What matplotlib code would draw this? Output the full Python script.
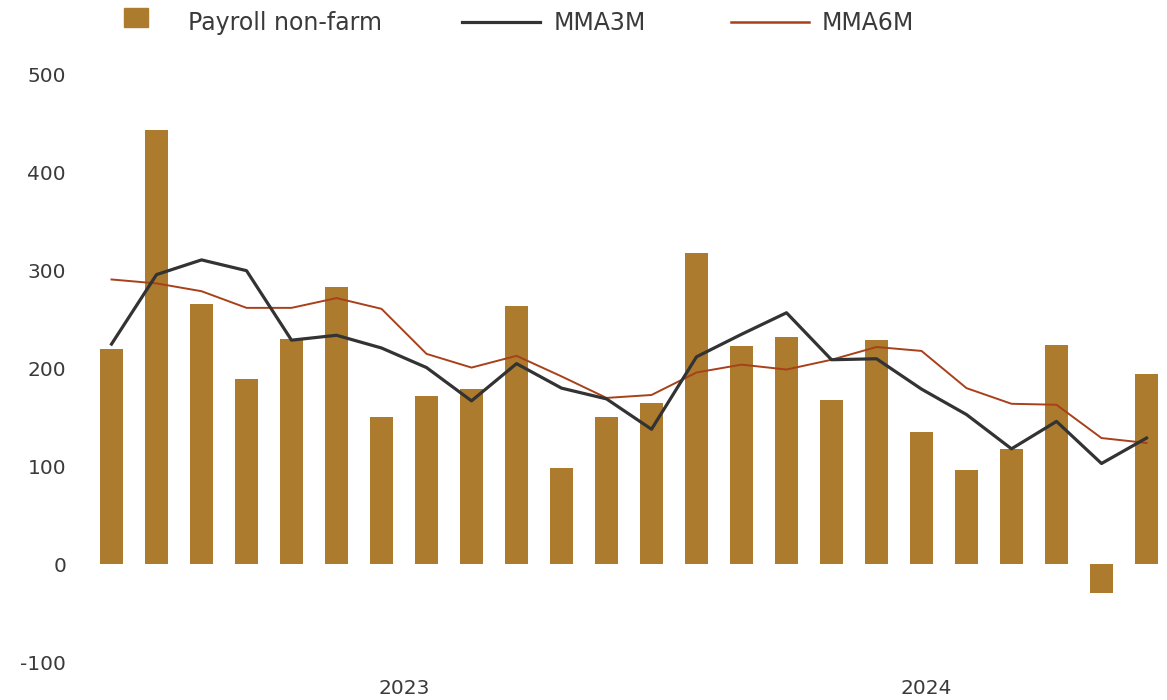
import matplotlib
matplotlib.use("Agg")
import matplotlib.pyplot as plt
from matplotlib.patches import Rectangle
from matplotlib.lines import Line2D
import numpy as np

# Nonfarm payrolls (thousands) and moving averages
payroll = [220, 444, 266, 189, 230, 283, 150, 172, 179, 264, 98, 150,
           165, 318, 223, 232, 168, 229, 135, 96, 118, 224, -29, 194]
mma3m = [225, 296, 311, 300, 229, 234, 221, 201, 167, 205, 180, 169,
         138, 212, 235, 257, 209, 210, 179, 153, 118, 146, 103, 129]
mma6m = [291, 287, 279, 262, 262, 272, 261, 215, 201, 213, 192, 170,
         173, 196, 204, 199, 209, 222, 218, 180, 164, 163, 129, 124]
year_labels = ["2023", "2024"]
year_pos = [6.5, 18.1]
yticks = [-100, 0, 100, 200, 300, 400, 500]

plt.rcParams['font.family'] = ['DejaVu Sans']

W, H = 1167, 700
fig = plt.figure(figsize=(W / 100, H / 100), dpi=100)
ax = fig.add_axes([0.084, 0.054, 0.91, 0.839])

bar_c = '#AD7B2E'
c3 = '#333333'
c6 = '#A8401A'
txt_c = '#3a3a3a'

x = np.arange(len(payroll))
ax.bar(x, payroll, width=0.53, color=bar_c, zorder=1)
ax.plot(x, mma3m, color=c3, linewidth=2.3, zorder=3)
ax.plot(x, mma6m, color=c6, linewidth=1.4, zorder=2)

ax.set_xlim(-0.3, len(payroll) - 0.7)
ax.set_ylim(-100, 500)
ax.set_yticks(yticks)
ax.set_yticklabels([str(v) for v in yticks], fontsize=14.5, color=txt_c)
ax.set_xticks([])
ax.tick_params(axis='y', length=0, pad=23)
for s in ax.spines.values():
    s.set_visible(False)

for lab, p in zip(year_labels, year_pos):
    ax.text(p, -0.045, lab, transform=ax.get_xaxis_transform(),
            ha='center', va='center', fontsize=14.5, color=txt_c)

# legend on top, drawn by hand (square swatch + two line keys)
def fx(px):
    return px / W

def fy(py):
    return 1 - py / H

ly = 23
fig.add_artist(Rectangle((fx(124), fy(27)), fx(24), 19 / H, color=bar_c,
                         transform=fig.transFigure))
fig.text(fx(188), fy(ly), 'Payroll non-farm', fontsize=17, color=txt_c,
         va='center', ha='left')
fig.add_artist(Line2D([fx(462), fx(540)], [fy(22), fy(22)], color=c3,
                      linewidth=2.3, transform=fig.transFigure))
fig.text(fx(554), fy(ly), 'MMA3M', fontsize=17, color=txt_c,
         va='center', ha='left')
fig.add_artist(Line2D([fx(731), fx(809)], [fy(22), fy(22)], color=c6,
                      linewidth=1.8, transform=fig.transFigure))
fig.text(fx(822), fy(ly), 'MMA6M', fontsize=17, color=txt_c,
         va='center', ha='left')

fig.savefig('out.png', dpi=100, facecolor='white')
